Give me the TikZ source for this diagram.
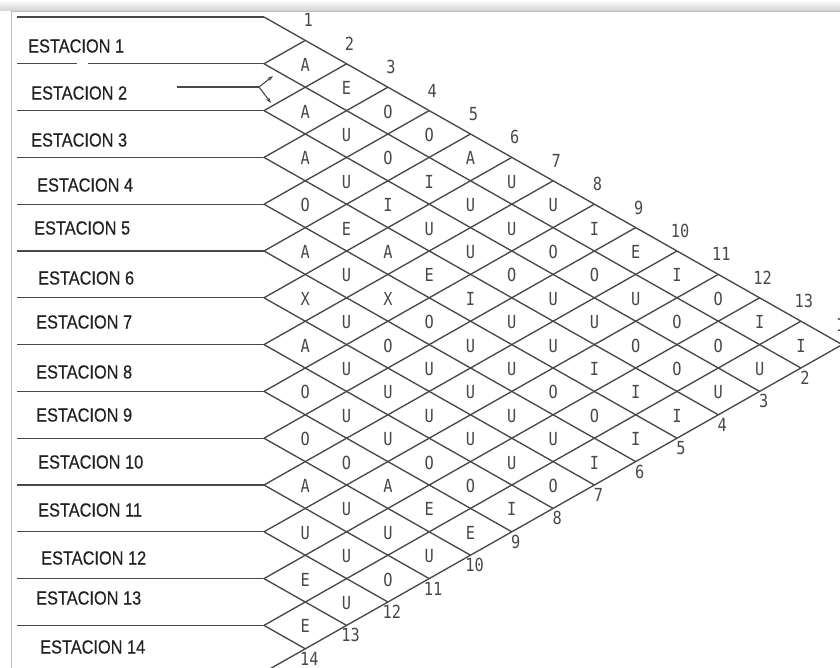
\documentclass[tikz,border=0pt]{standalone}
\usepackage{fontspec}
\setmainfont{Liberation Sans}
\newfontfamily\stfont[FakeStretch=0.86,FakeBold=0.5]{Liberation Sans}
\newfontfamily\cellfont[FakeStretch=0.85]{DejaVu Sans Mono}
\usetikzlibrary{arrows.meta}
\definecolor{ink}{HTML}{484848}
\definecolor{txt}{HTML}{222222}
\begin{document}
\begin{tikzpicture}[x=1pt,y=-1pt,
  gridline/.style={draw=ink, line width=1.35pt},
  cell/.style={font=\cellfont\fontsize{18}{18}\selectfont, text=ink, inner sep=0pt},
  stat/.style={font=\stfont\fontsize{19}{19}\selectfont, text=txt, anchor=west, inner sep=0pt}]
\useasboundingbox (0,0) rectangle (840,668);
\begin{scope}
\clip (0,0) rectangle (840,668);
% frame of the scan
\shade[top color=white, bottom color=black!18] (0,0) rectangle (840,11);
\draw[black!25, line width=1pt] (11,668) -- (11,11.5) -- (840,11.5);
% coordinates
\foreach \k in {0,...,14} {
  \coordinate (P\k) at (264,{17+46.8*\k});
  \coordinate (L\k) at (17,{17+46.8*\k});
  \coordinate (T\k) at ({264+41.3*\k},{17+23.4*\k});
  \coordinate (D\k) at ({264+41.3*(14-\k)},{344.6+23.4*\k});
}
\coordinate (G1) at (77,63.8);
\coordinate (G2) at (88,63.8);
% horizontal lines
\foreach \k in {0,2,3,4,5,6,7,8,9,10,11,12,13,14} \draw[gridline] (L\k) -- (P\k);
\draw[gridline] (L1) -- (G1);
\draw[gridline] (G2) -- (P1);
% diagonals
\foreach \k in {0,...,13} \draw[gridline] (P\k) -- (D\k);
\foreach \k in {1,...,14} \draw[gridline] (P\k) -- (T\k);
% cell letters
\foreach \col [count=\d] in {
  {A,A,A,O,A,X,A,O,O,A,U,E,E},
  {E,U,U,E,U,U,U,U,O,U,U,U},
  {O,O,I,A,X,O,U,U,A,U,O},
  {O,I,U,E,O,U,U,O,E,U},
  {A,U,U,I,U,U,U,O,E},
  {U,U,O,U,U,U,U,I},
  {U,O,U,U,O,U,O},
  {I,O,U,I,O,I},
  {E,U,O,I,I},
  {I,O,O,I},
  {O,O,U},
  {I,U},
  {I}} {
  \foreach \L [count=\i] in \col {
    \node[cell] (c\i-\d) at ({264+41.3*\d},{17+23.4*(2*\i+\d-1)+1}) {\L};
  }
}
% top numbers
\foreach \k in {1,...,14}
  \node[cell] (t\k) at ({264+41.3*\k+3},{17+23.4*\k-20}) {\k};
% bottom numbers
\foreach \m in {1,...,14}
  \node[cell] (b\m) at ({264+41.3*(15-\m)+4},{344.6+23.4*(\m-1)+10}) {\m};
% station labels
\foreach \n/\x/\y in {1/28/46,2/31/93,3/31/140,4/37/185,5/34/228,6/38/278,7/36/322,
  8/36/372,9/36/415,10/38/462,11/38/510,12/41/558,13/36/598,14/40/647}
  \node[stat] (s\n) at (\x,\y) {ESTACION \n};
% arrow at station 2
\coordinate (a0) at (177,87);
\coordinate (a1) at (259,87);
\coordinate (a2) at (273,76);
\coordinate (a3) at (271,103);
\draw[gridline, line width=1.1pt] (a0) -- (a1);
\draw[gridline, line width=1.1pt, -{Stealth[length=6pt,width=4pt]}] (a1) -- (a2);
\draw[gridline, line width=1.1pt, -{Stealth[length=6pt,width=4pt]}] (a1) -- (a3);
\end{scope}
\end{tikzpicture}
\end{document}
